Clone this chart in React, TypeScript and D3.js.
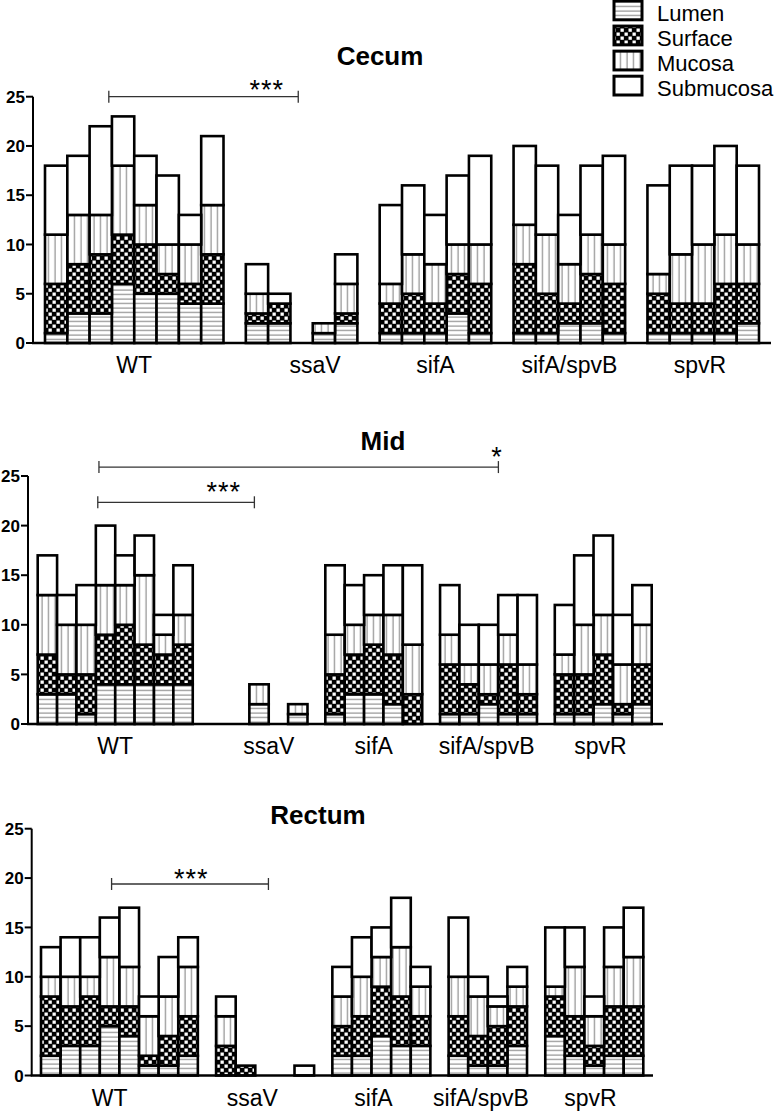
import React from "react";
import * as d3 from "d3";

// ---------- data ----------
const layers = ["Lumen", "Surface", "Mucosa", "Submucosa"];
const groupNames = ["WT", "ssaV", "sifA", "sifA/spvB", "spvR"];
const yTicks = [0, 5, 10, 15, 20, 25];

// Cecum (mice per group: 8,5,5,5,5)
const cecumCounts = [8, 5, 5, 5, 5];
const cecumLumen = [1, 3, 3, 6, 5, 5, 4, 4, 2, 2, 0, 1, 2, 1, 1, 1, 3, 1, 1, 1, 2, 2, 1, 1, 1, 1, 1, 2];
const cecumSurface = [5, 5, 6, 5, 5, 2, 2, 5, 1, 2, 0, 0, 1, 3, 4, 3, 4, 5, 7, 4, 2, 5, 5, 4, 3, 3, 5, 4];
const cecumMucosa = [5, 5, 4, 7, 4, 3, 4, 5, 2, 0, 0, 1, 3, 2, 4, 4, 3, 4, 4, 6, 4, 4, 4, 2, 5, 6, 5, 4];
const cecumSubmucosa = [7, 6, 9, 5, 5, 7, 3, 7, 3, 1, 0, 0, 3, 8, 7, 5, 7, 9, 8, 7, 5, 7, 9, 9, 9, 8, 9, 8];

// Mid (8,5,5,5,5)
const midCounts = [8, 5, 5, 5, 5];
const midLumen = [3, 3, 1, 4, 4, 4, 4, 4, 0, 0, 2, 0, 1, 1, 3, 3, 2, 0, 1, 1, 2, 1, 1, 1, 1, 2, 1, 2];
const midSurface = [4, 2, 4, 5, 6, 4, 3, 4, 0, 0, 0, 0, 0, 4, 4, 5, 5, 3, 5, 3, 1, 5, 2, 4, 4, 5, 1, 4];
const midMucosa = [6, 5, 5, 5, 4, 7, 2, 3, 0, 0, 2, 0, 1, 4, 3, 3, 4, 5, 3, 2, 3, 3, 3, 2, 5, 4, 4, 4];
const midSubmucosa = [4, 3, 4, 6, 3, 4, 2, 5, 0, 0, 0, 0, 0, 7, 4, 4, 5, 8, 5, 4, 4, 4, 7, 5, 7, 8, 5, 4];

// Rectum (8,5,5,4,5)
const rectumCounts = [8, 5, 5, 4, 5];
const rectumLumen = [2, 3, 3, 5, 4, 1, 1, 2, 0, 0, 0, 0, 0, 2, 2, 4, 3, 3, 2, 1, 1, 3, 4, 2, 1, 2, 2];
const rectumSurface = [6, 4, 5, 2, 3, 1, 3, 4, 3, 1, 0, 0, 0, 3, 4, 5, 5, 3, 4, 3, 4, 4, 4, 4, 2, 5, 5];
const rectumMucosa = [2, 3, 2, 5, 4, 4, 4, 5, 3, 0, 0, 0, 0, 3, 4, 3, 5, 3, 4, 4, 2, 2, 1, 5, 3, 4, 5];
const rectumSubmucosa = [3, 4, 4, 4, 6, 2, 4, 3, 2, 0, 0, 0, 1, 3, 4, 3, 5, 2, 6, 2, 1, 2, 6, 4, 2, 4, 5];

// ---------- layout (not data) ----------
const FONT = "'Liberation Sans', Arial, Helvetica, sans-serif";
const patternIds = ["pLumen", "pSurface", "pMucosa", "pSub"];

type Bracket = { u1: number; u2: number; v: number; tu: number; label: string; tdy: number };
type PanelCfg = {
  title: string; titleX: number; titleY: number;
  counts: number[]; series: number[][];
  y0: number; y25: number; axisX: number; xStart: number; xEnd: number; gap: number; axisEnd: number;
  labelShift: number[]; brackets: Bracket[];
};

const panels: PanelCfg[] = [
  {
    title: "Cecum", titleX: 380, titleY: 65,
    counts: cecumCounts, series: [cecumLumen, cecumSurface, cecumMucosa, cecumSubmucosa],
    y0: 343, y25: 96.7, axisX: 33, xStart: 45, xEnd: 759, gap: 1, axisEnd: 771,
    labelShift: [0, 0.6, 0, 0, -0.15],
    brackets: [{ u1: 2.86, u2: 11.35, v: 25, tu: 9.94, label: "***", tdy: 2 }],
  },
  {
    title: "Mid", titleX: 383, titleY: 450,
    counts: midCounts, series: [midLumen, midSurface, midMucosa, midSubmucosa],
    y0: 724, y25: 476, axisX: 28, xStart: 37.7, xEnd: 651.7, gap: 0.92, axisEnd: 663,
    labelShift: [0, 0.5, 0, -0.1, -0.15],
    brackets: [
      { u1: 3.1, u2: 11.18, v: 22.35, tu: 9.6, label: "***", tdy: -1 },
      { u1: 3.16, u2: 23.77, v: 25.9, tu: 23.7, label: "*", tdy: -1 },
    ],
  },
  {
    title: "Rectum", titleX: 318, titleY: 824,
    counts: rectumCounts, series: [rectumLumen, rectumSurface, rectumMucosa, rectumSubmucosa],
    y0: 1075.5, y25: 828.7, axisX: 31.7, xStart: 41, xEnd: 643.3, gap: 0.93, axisEnd: 653,
    labelShift: [-0.5, -0.65, -0.4, -0.35, -0.2],
    brackets: [{ u1: 3.6, u2: 11.6, v: 19.4, tu: 7.66, label: "***", tdy: 4 }],
  },
];

function Panel({ cfg }: { cfg: PanelCfg }) {
  const total = d3.sum(cfg.counts) + cfg.gap * (cfg.counts.length - 1);
  const x = d3.scaleLinear().domain([0, total]).range([cfg.xStart, cfg.xEnd]);
  const y = d3.scaleLinear().domain([0, 25]).range([cfg.y0, cfg.y25]);

  const slots: number[] = [];
  const groupSpans: [number, number][] = [];
  let u = 0;
  cfg.counts.forEach((n, gi) => {
    const start = u;
    for (let i = 0; i < n; i++) slots.push(u + i);
    u += n;
    groupSpans.push([start, u]);
    if (gi < cfg.counts.length - 1) u += cfg.gap;
  });

  const rows = slots.map((_, i) => {
    const r: Record<string, number> = {};
    layers.forEach((k, li) => (r[k] = cfg.series[li][i]));
    return r;
  });
  const stacked = d3.stack<Record<string, number>>().keys(layers)(rows);

  return (
    <g>
      <text x={cfg.titleX} y={cfg.titleY} textAnchor="middle" fontFamily={FONT} fontWeight="bold" fontSize={26}>
        {cfg.title}
      </text>
      {stacked.map((layer, li) =>
        layer.map((d, i) => {
          if (d[1] - d[0] <= 0) return null;
          const x0 = x(slots[i]);
          const x1 = x(slots[i] + 1);
          return (
            <rect
              key={`${li}-${i}`}
              x={x0}
              width={x1 - x0}
              y={y(d[1])}
              height={y(d[0]) - y(d[1])}
              fill={`url(#${patternIds[li]})`}
              stroke="#000"
              strokeWidth={2.6}
            />
          );
        })
      )}
      <line x1={cfg.axisX} x2={cfg.axisX} y1={y(0)} y2={y(25)} stroke="#000" strokeWidth={2} />
      {yTicks.map((t) => (
        <g key={t}>
          <line x1={cfg.axisX - 7} x2={cfg.axisX} y1={y(t)} y2={y(t)} stroke="#000" strokeWidth={2} />
          <text x={cfg.axisX - 8} y={y(t)} dy="0.36em" textAnchor="end" fontFamily={FONT} fontWeight="bold" fontSize={17}>
            {t}
          </text>
        </g>
      ))}
      <line x1={cfg.axisX - 1} x2={cfg.axisEnd} y1={y(0)} y2={y(0)} stroke="#000" strokeWidth={2.4} />
      {groupNames.map((g, gi) => {
        const [s, e] = groupSpans[gi];
        return (
          <text key={g} x={x((s + e) / 2 + cfg.labelShift[gi])} y={y(0) + 30} textAnchor="middle" fontFamily={FONT} fontSize={23}>
            {g}
          </text>
        );
      })}
      {cfg.brackets.map((b, bi) => (
        <g key={bi}>
          <line x1={x(b.u1)} x2={x(b.u2)} y1={y(b.v)} y2={y(b.v)} stroke="#333" strokeWidth={1.3} />
          <line x1={x(b.u1)} x2={x(b.u1)} y1={y(b.v) - 6} y2={y(b.v) + 6} stroke="#333" strokeWidth={1.3} />
          <line x1={x(b.u2)} x2={x(b.u2)} y1={y(b.v) - 6} y2={y(b.v) + 6} stroke="#333" strokeWidth={1.3} />
          <text x={x(b.tu)} y={y(b.v) + b.tdy} textAnchor="middle" fontFamily={FONT} fontSize={27} letterSpacing={1}>
            {b.label}
          </text>
        </g>
      ))}
    </g>
  );
}

export default function App() {
  const legendY = d3.scaleBand<string>().domain(layers).range([1, 95]).paddingInner(0.25);
  return (
    <svg width={780} height={1112} style={{ position: "absolute", left: 0, top: 0, background: "#fff" }}>
      <defs>
        <pattern id="pLumen" width={8} height={4.5} patternUnits="userSpaceOnUse">
          <rect width={8} height={4.5} fill="#fff" />
          <line x1={0} x2={8} y1={2} y2={2} stroke="#7a7a7a" strokeWidth={1} />
        </pattern>
        <pattern id="pSurface" width={8} height={8} patternUnits="userSpaceOnUse">
          <rect width={8} height={8} fill="#000" />
          <rect x={0.5} y={0.5} width={3.3} height={3.3} fill="#fff" />
          <rect x={4.5} y={4.5} width={3.3} height={3.3} fill="#fff" />
        </pattern>
        <pattern id="pMucosa" width={6.5} height={8} patternUnits="userSpaceOnUse">
          <rect width={6.5} height={8} fill="#fff" />
          <line x1={3} x2={3} y1={0} y2={8} stroke="#7a7a7a" strokeWidth={1} />
        </pattern>
        <pattern id="pSub" width={8} height={8} patternUnits="userSpaceOnUse">
          <rect width={8} height={8} fill="#fff" />
        </pattern>
      </defs>
      <rect width={780} height={1112} fill="#fff" />
      {panels.map((p) => (
        <Panel key={p.title} cfg={p} />
      ))}
      {layers.map((k, i) => (
        <g key={k}>
          <rect x={614} y={legendY(k)} width={28} height={legendY.bandwidth()} fill={`url(#${patternIds[i]})`} stroke="#000" strokeWidth={3} />
          <text x={657} y={(legendY(k) as number) + legendY.bandwidth() + 1} fontFamily={FONT} fontSize={22}>
            {k}
          </text>
        </g>
      ))}
    </svg>
  );
}
